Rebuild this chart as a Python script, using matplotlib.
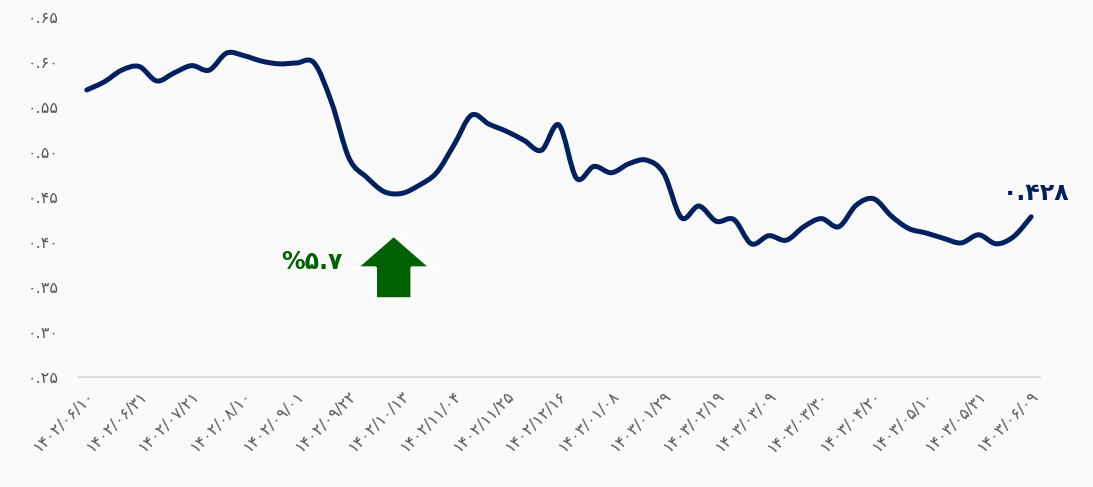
import matplotlib.pyplot as plt
from matplotlib.path import Path
from matplotlib.patches import PathPatch

# weekly values (55 weeks, 1402/06/10 .. 1403/06/09)
ratio = [0.569, 0.578, 0.591, 0.595, 0.579, 0.588, 0.596, 0.591, 0.610, 0.607,
         0.601, 0.598, 0.599, 0.599, 0.555, 0.493, 0.472, 0.456, 0.454, 0.463,
         0.477, 0.508, 0.541, 0.531, 0.523, 0.513, 0.502, 0.530, 0.471, 0.484,
         0.477, 0.487, 0.491, 0.476, 0.427, 0.440, 0.423, 0.425, 0.398, 0.407,
         0.402, 0.417, 0.426, 0.417, 0.441, 0.448, 0.429, 0.415, 0.410, 0.404,
         0.399, 0.408, 0.398, 0.406, 0.428]
weeks = list(range(len(ratio)))

# every third week is labelled
tick_labels = ['۱۴۰۲/۰۶/۱۰', '۱۴۰۲/۰۶/۳۱', '۱۴۰۲/۰۷/۲۱', '۱۴۰۲/۰۸/۱۰',
               '۱۴۰۲/۰۹/۰۱', '۱۴۰۲/۰۹/۲۲', '۱۴۰۲/۱۰/۱۳', '۱۴۰۲/۱۱/۰۴',
               '۱۴۰۲/۱۱/۲۵', '۱۴۰۲/۱۲/۱۶', '۱۴۰۳/۰۱/۰۸', '۱۴۰۳/۰۱/۲۹',
               '۱۴۰۳/۰۲/۱۹', '۱۴۰۳/۰۳/۰۹', '۱۴۰۳/۰۳/۳۰', '۱۴۰۳/۰۴/۲۰',
               '۱۴۰۳/۰۵/۱۰', '۱۴۰۳/۰۵/۳۱', '۱۴۰۳/۰۶/۰۹']
tick_weeks = weeks[::3]
y_ticks = [0.25, 0.30, 0.35, 0.40, 0.45, 0.50, 0.55, 0.60, 0.65]
y_labels = ['۰.۲۵', '۰.۳۰', '۰.۳۵', '۰.۴۰', '۰.۴۵', '۰.۵۰', '۰.۵۵', '۰.۶۰', '۰.۶۵']

last_label = '۰.۴۲۸'
change_label = '%۵.۷'

navy = '#002060'
green = '#006100'
bg = '#fafafa'


def smooth_path(xs, ys):
    # catmull-rom through the points, like a "smoothed line" chart
    verts = [(xs[0], ys[0])]
    codes = [Path.MOVETO]
    n = len(xs)
    for i in range(n - 1):
        x0, y0 = (xs[i - 1], ys[i - 1]) if i > 0 else (xs[i], ys[i])
        x3, y3 = (xs[i + 2], ys[i + 2]) if i + 2 < n else (xs[i + 1], ys[i + 1])
        c1 = (xs[i] + (xs[i + 1] - x0) / 6, ys[i] + (ys[i + 1] - y0) / 6)
        c2 = (xs[i + 1] - (x3 - xs[i]) / 6, ys[i + 1] - (y3 - ys[i]) / 6)
        verts += [c1, c2, (xs[i + 1], ys[i + 1])]
        codes += [Path.CURVE4] * 3
    return Path(verts, codes)


plt.rcParams['font.family'] = ['DejaVu Sans']

fig = plt.figure(figsize=(10.93, 4.87), dpi=100, facecolor=bg)
ax = fig.add_axes([0.0714, 0.2259, 0.88, 0.7391])
ax.set_facecolor(bg)

ax.add_patch(PathPatch(smooth_path(weeks, ratio), fill=False, ec=navy, lw=3.6,
                       capstyle='round', joinstyle='round'))

ax.set_xlim(-0.5, len(ratio) - 0.5)
ax.set_ylim(0.25, 0.65)
ax.set_yticks(y_ticks)
ax.set_yticklabels(y_labels)
ax.set_xticks(tick_weeks)
ax.set_xticklabels(tick_labels, rotation=45, ha='right', rotation_mode='anchor')
ax.tick_params(length=0, labelsize=11.5, labelcolor='#595959')
ax.tick_params(axis='y', pad=14)
ax.tick_params(axis='x', pad=8)
for s in ['top', 'right', 'left']:
    ax.spines[s].set_visible(False)
ax.spines['bottom'].set_color('#d9d9d9')
ax.spines['bottom'].set_linewidth(1.2)

# value of the last week
ax.text(54.3, 0.4544, last_label, color=navy, fontsize=17, fontweight='bold',
        ha='center', va='center')

# change since the low
ax.text(12.9, 0.378, change_label, color=green, fontsize=17, fontweight='bold',
        ha='center', va='center')
ax.annotate('', xy=(17.55, 0.4078), xytext=(17.55, 0.3367),
            arrowprops=dict(arrowstyle='simple,head_length=1.7,head_width=3.9,tail_width=1.9',
                            mutation_scale=14, fc=green, ec='white', lw=2.5,
                            shrinkA=0, shrinkB=0))

fig.savefig('out.png', dpi=100, facecolor=bg)
